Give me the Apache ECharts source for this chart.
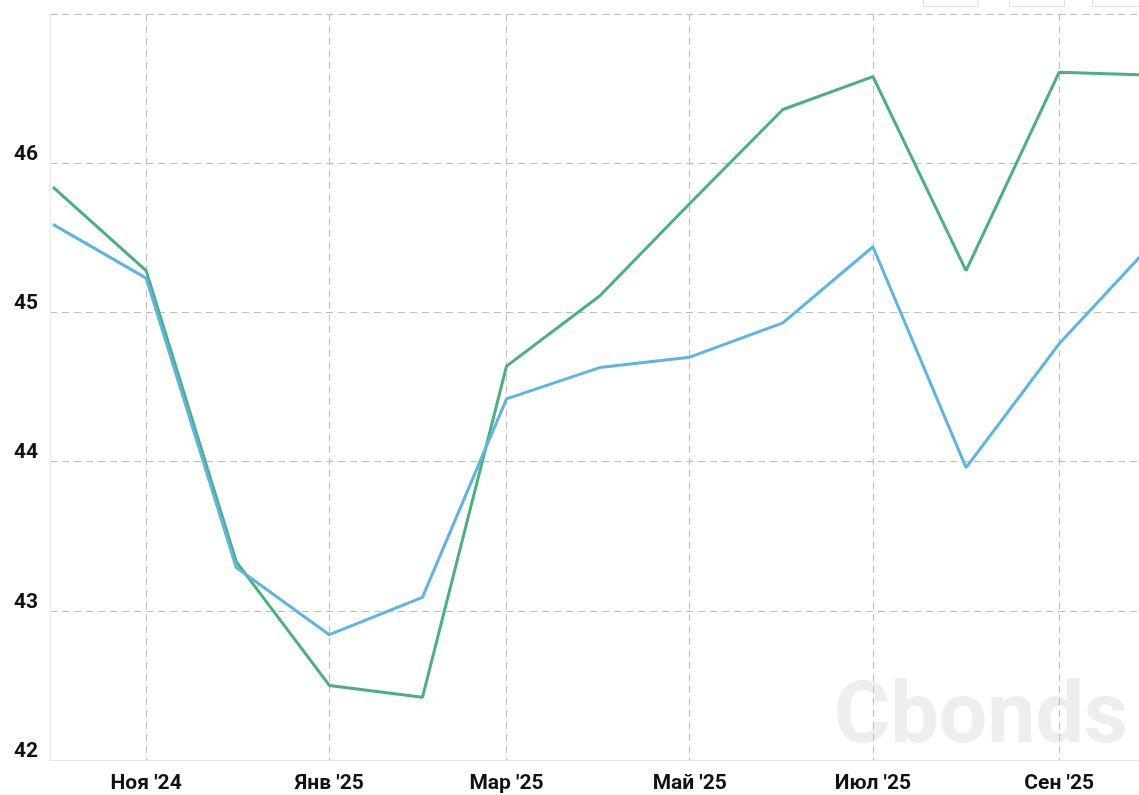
<!DOCTYPE html>
<html>
<head>
<meta charset="utf-8">
<style>
  html, body { margin: 0; padding: 0; background: #fff; }
  #chart { width: 1139px; height: 795px; }
</style>
<script src="https://cdn.jsdelivr.net/npm/echarts@6/dist/echarts.min.js"></script>
</head>
<body>
<div id="chart"></div>
<script>
// даты точек (помесячно)
var dates = ['2024-10-01', '2024-11-01', '2024-12-01', '2025-01-01', '2025-02-01', '2025-03-01',
    '2025-04-01', '2025-05-01', '2025-06-01', '2025-07-01', '2025-08-01', '2025-09-01', '2025-10-01'];
// зелёная линия
var greenValues = [45.84, 45.28, 43.33, 42.50, 42.42, 44.64, 45.11, 45.73, 46.36, 46.58, 45.28, 46.61, 46.59];
// голубая линия
var blueValues = [45.59, 45.23, 43.29, 42.84, 43.09, 44.42, 44.63, 44.70, 44.93, 45.44, 43.96, 44.79, 45.44];
// подписи оси X
var tickDates = ['2024-11-01', '2025-01-01', '2025-03-01', '2025-05-01', '2025-07-01', '2025-09-01'];
var tickLabels = ["Ноя '24", "Янв '25", "Мар '25", "Май '25", "Июл '25", "Сен '25"];

function toTime(s) {
    var p = s.split('-');
    return Date.UTC(+p[0], +p[1] - 1, +p[2]);
}

var tickTimes = tickDates.map(toTime);

function pairs(values) {
    return values.map(function (v, i) { return [toTime(dates[i]), v]; });
}

var myChart = echarts.init(document.getElementById('chart'));

//пунктир сетки
var gridLine = { color: '#bcbcbc', type: [7, 5], width: 1 };

var option = {
    animation: false,
    backgroundColor: '#ffffff',
    grid: {
        left: 50,
        right: 0,
        top: 14,
        bottom: 35,
        containLabel: false,
        outerBoundsMode: 'none'
    },
    xAxis: {
        type: 'value',
        min: Date.UTC(2024, 8, 30),
        max: Date.UTC(2025, 8, 27, 14),
        axisLine: { show: true, lineStyle: { color: '#e3e3e3', width: 1 } },
        axisTick: { show: false, customValues: tickTimes },
        axisLabel: {
            customValues: tickTimes,
            margin: 13,
            color: '#111',
            fontFamily: 'Roboto',
            fontWeight: 'bold',
            fontSize: 21,
            showMinLabel: true,
            showMaxLabel: true,
            hideOverlap: false,
            formatter: function (val) {
                var i = tickTimes.indexOf(val);
                return i >= 0 ? tickLabels[i] : '';
            }
        },
        splitLine: { show: true, lineStyle: gridLine }
    },
    yAxis: {
        type: 'value',
        min: 42,
        max: 47,
        interval: 1,
        axisLine: { show: true, lineStyle: { color: '#e8e8e8', width: 1 } },
        axisTick: { show: false },
        axisLabel: {
            margin: 12,
            color: '#111',
            fontFamily: 'Roboto',
            fontWeight: 'bold',
            fontSize: 21,
            verticalAlign: 'bottom',
            padding: [0, 0, -2, 0],
            formatter: function (v) { return v === 47 ? '' : String(v); }
        },
        splitLine: { show: true, lineStyle: gridLine }
    },
    graphic: [
        {
            type: 'text',
            left: 834,
            top: 677,
            z: 0,
            silent: true,
            style: {
                text: 'Cbonds',
                fill: '#eeeeee',
                font: 'bold 86px Roboto'
            }
        },
        { type: 'rect', left: 923, top: -10, shape: { width: 55, height: 16 }, style: { fill: '#fff', stroke: '#e2e2e2' } },
        { type: 'rect', left: 1009, top: -10, shape: { width: 55, height: 16 }, style: { fill: '#fff', stroke: '#e2e2e2' } },
        { type: 'rect', left: 1092, top: -10, shape: { width: 60, height: 16 }, style: { fill: '#fff', stroke: '#e2e2e2' } }
    ],
    series: [
        {
            name: 'Ряд 1',
            type: 'line',
            data: pairs(greenValues),
            showSymbol: false,
            clip: true,
            z: 3,
            lineStyle: { color: '#4caf7d', width: 3 },
            itemStyle: { color: '#4caf7d' }
        },
        {
            name: 'Ряд 2',
            type: 'line',
            data: pairs(blueValues),
            showSymbol: false,
            clip: true,
            z: 4,
            lineStyle: { color: '#62b4e0', width: 3 },
            itemStyle: { color: '#62b4e0' }
        }
    ]
};

myChart.setOption(option);
</script>
</body>
</html>
